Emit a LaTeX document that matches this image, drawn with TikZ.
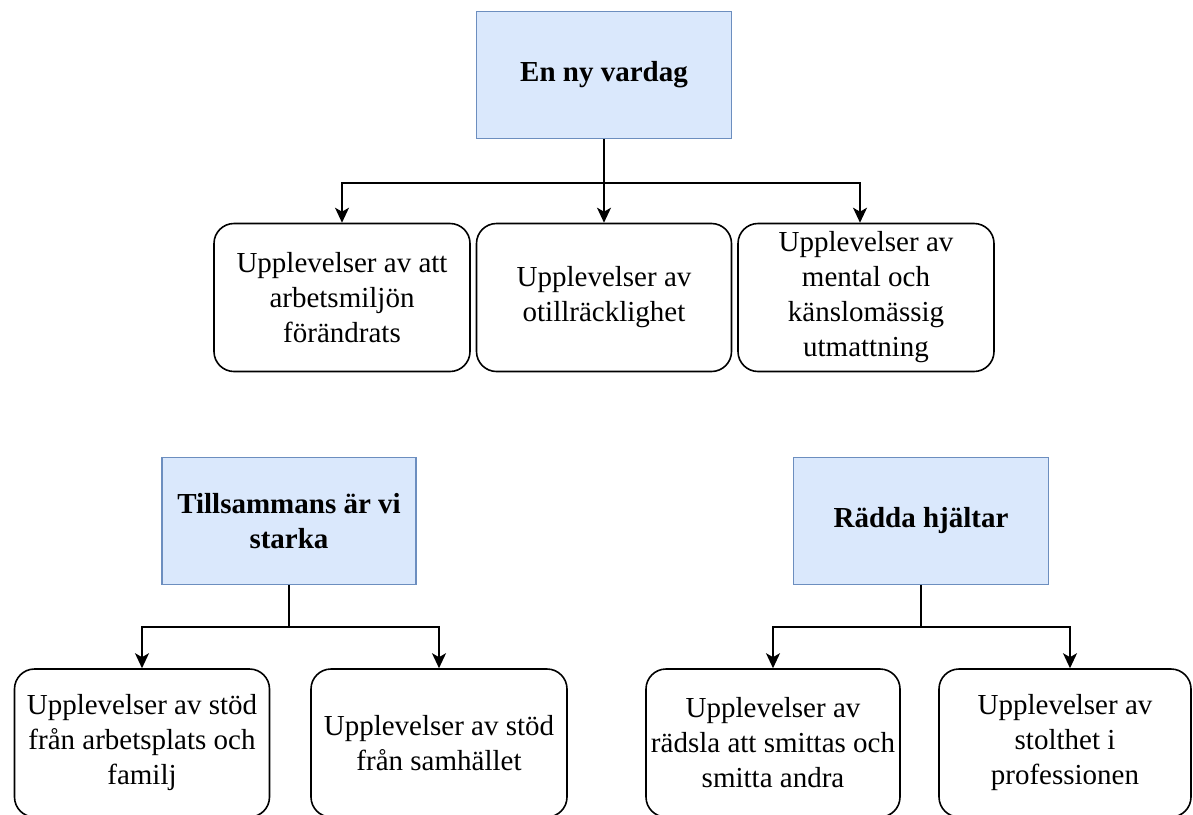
\documentclass[tikz,border=0pt]{standalone}
\usepackage{fontspec}
\setmainfont{Liberation Serif}
\usetikzlibrary{arrows.meta}
\definecolor{bfill}{HTML}{DAE8FC}
\definecolor{bdraw}{HTML}{6C8EBF}
\begin{document}
\begin{tikzpicture}[x=1pt,y=-1pt,
  theme/.style={draw=bdraw, fill=bfill, line width=1.5pt, minimum width=255pt, minimum height=127pt,
    font=\fontsize{29}{35}\selectfont\bfseries, align=center, inner sep=0pt},
  sub/.style={draw=black, rounded corners=20pt, line width=1.6pt, minimum width=255pt, minimum height=148pt,
    font=\fontsize{29}{35}\selectfont, align=center, inner sep=0pt},
  conn/.style={line width=1.8pt},
  arr/.style={conn, -{Stealth[length=15pt,width=14pt,inset=4pt]}}]
\clip (0,0) rectangle (1193,814);
\fill[white] (0,0) rectangle (1193,814);

% top group
\node[theme] (top) at (604,75) {En ny vardag};
\node[sub, minimum width=256pt] (b1) at (342,297.5) {Upplevelser av att\\arbetsmiljön\\förändrats};
\node[sub] (b2) at (604,297.5) {Upplevelser av\\otillräcklighet};
\node[sub, minimum width=256pt] (b3) at (866,297.5) {Upplevelser av\\mental och\\känslomässig\\utmattning};
\draw[arr] (top.south) -- ++(0,44) -| (b1.north);
\draw[arr] (top.south) -- (b2.north);
\draw[arr] (top.south) -- ++(0,44) -| ([xshift=-6pt]b3.north);

% bottom left group
\node[theme, minimum width=254pt] (till) at (289,521) {Tillsammans är vi\\starka};
\node[sub] (c1) at (142,743) {Upplevelser av stöd\\från arbetsplats och\\familj};
\node[sub, minimum width=256pt] (c2) at (439,743) {Upplevelser av stöd\\från samhället};
\draw[arr] (till.south) -- ++(0,42) -| (c1.north);
\draw[arr] (till.south) -- ++(0,42) -| (c2.north);

% bottom right group
\node[theme] (radda) at (921,521) {Rädda hjältar};
\node[sub, minimum width=254pt] (c3) at (773,743) {Upplevelser av\\rädsla att smittas och\\smitta andra};
\node[sub, minimum width=252pt] (c4) at (1065,743) {Upplevelser av\\stolthet i\\professionen};
\draw[arr] (radda.south) -- ++(0,42) -| (c3.north);
\draw[arr] (radda.south) -- ++(0,42) -| ([xshift=5pt]c4.north);
\end{tikzpicture}
\end{document}
